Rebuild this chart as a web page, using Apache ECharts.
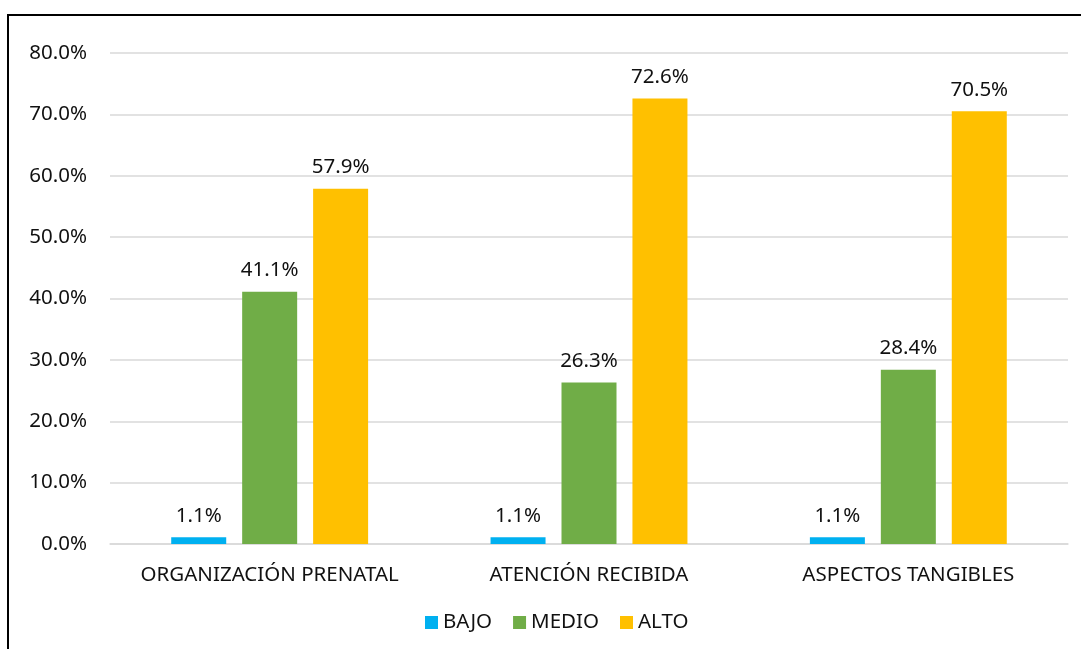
<!DOCTYPE html>
<html>
<head>
<meta charset="utf-8">
<script src="https://cdn.jsdelivr.net/npm/echarts@6/dist/echarts.min.js"></script>
<style>
  html, body { margin: 0; padding: 0; background: #fff; }
  #chart { width: 1081px; height: 649px; }
</style>
</head>
<body>
<div id="chart"></div>
<script>
// Dimensiones evaluadas
const categories = ['ORGANIZACIÓN PRENATAL', 'ATENCIÓN RECIBIDA', 'ASPECTOS TANGIBLES'];
// Porcentaje por nivel
const bajo = [1.1, 1.1, 1.1];
const medio = [41.1, 26.3, 28.4];
const alto = [57.9, 72.6, 70.5];
const seriesNames = ['BAJO', 'MEDIO', 'ALTO'];
const seriesColors = ['#00B0F0', '#70AD47', '#FFC000'];

const FONT = 'Noto Sans';
const FS = 20.5;
const chart = echarts.init(document.getElementById('chart'), null, { renderer: 'canvas' });

function barSeries(name, data, color) {
  return {
    name: name,
    type: 'bar',
    data: data,
    barWidth: 55,
    barGap: '29%',
    itemStyle: { color: color },
    label: {
      show: true,
      position: 'top',
      distance: 11,
      color: '#111',
      fontFamily: FONT,
      fontSize: FS,
      formatter: p => p.value.toFixed(1) + '%'
    }
  };
}

chart.setOption({
  animation: false,
  backgroundColor: '#fff',
  textStyle: { fontFamily: FONT },
  graphic: [{
    type: 'rect',
    shape: { x: 8, y: 15, width: 1200, height: 800 },
    style: { fill: 'none', stroke: '#000', lineWidth: 2 },
    silent: true
  }],
  grid: { left: 110, right: 13, top: 53, bottom: 105, containLabel: false },
  legend: {
    data: seriesNames,
    top: 607,
    left: 420,
    itemWidth: 13,
    itemHeight: 13,
    itemGap: 21,
    icon: 'rect',
    textStyle: { color: '#111', fontFamily: FONT, fontSize: FS }
  },
  xAxis: {
    type: 'category',
    data: categories,
    axisLine: { show: true, lineStyle: { color: '#D9D9D9', width: 1.5 } },
    axisTick: { show: false },
    axisLabel: {
      interval: 0,
      hideOverlap: false,
      color: '#111',
      fontFamily: FONT,
      fontSize: FS,
      margin: 21
    }
  },
  yAxis: {
    type: 'value',
    min: 0,
    max: 80,
    interval: 10,
    axisLine: { show: false },
    axisTick: { show: false },
    splitLine: { lineStyle: { color: '#D9D9D9', width: 1.5 } },
    axisLabel: {
      color: '#111',
      fontFamily: FONT,
      fontSize: FS,
      margin: 23,
      formatter: v => v.toFixed(1) + '%'
    }
  },
  series: [
    barSeries(seriesNames[0], bajo, seriesColors[0]),
    barSeries(seriesNames[1], medio, seriesColors[1]),
    barSeries(seriesNames[2], alto, seriesColors[2])
  ]
});
</script>
</body>
</html>
